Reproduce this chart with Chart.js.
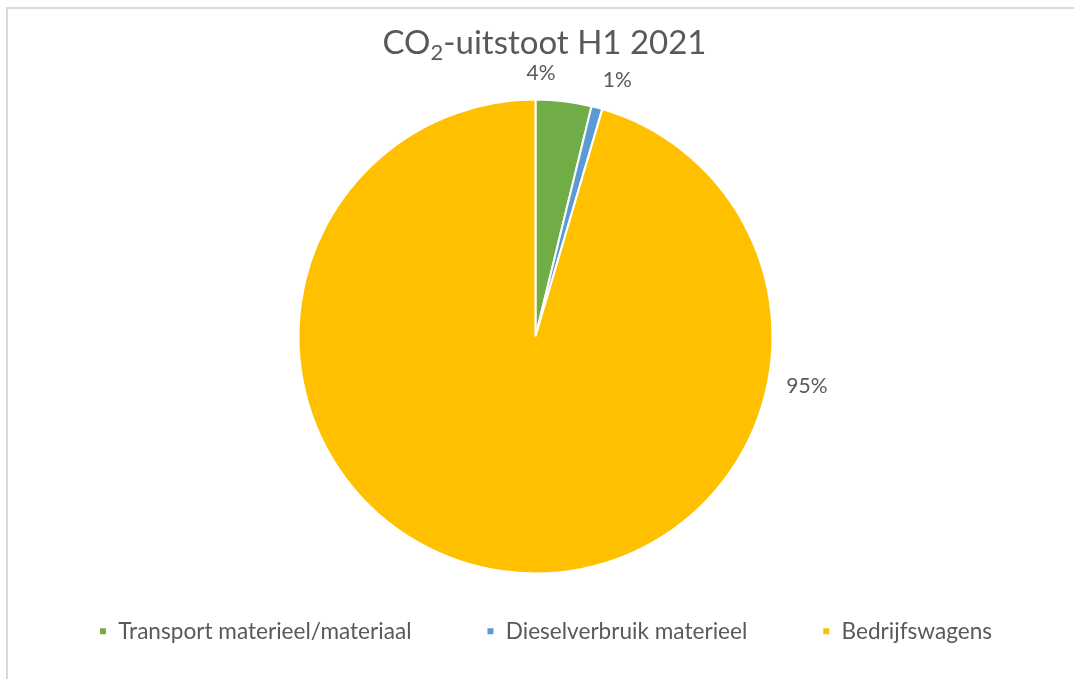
<!DOCTYPE html>
<html>
<head>
<meta charset="utf-8">
<style>
  html, body { margin: 0; padding: 0; background: #fff; }
  #wrap { width: 1074px; height: 679px; position: relative; }
</style>
<script src="https://cdn.jsdelivr.net/npm/chart.js@4"></script>
</head>
<body>
<div id="wrap"><canvas id="myChart" width="1074" height="679"></canvas></div>
<script>
var categories = ["Transport materieel/materiaal", "Dieselverbruik materieel", "Bedrijfswagens"];
var shares = [3.8, 0.75, 95.45];
var sliceColors = ["#70AD47", "#5B9BD5", "#FFC000"];

var textColor = "#595959";
var fontFamily = "Lato";

// where each percentage label sits: angle from top (clockwise, degrees) and distance from centre
var labelAngles = [1.2, 17.7, 100.4];
var labelRadii = [263, 269, 276];

var legendShiftX = 10;
var legendShiftY = -29;

var frame = {
	id: "frame",
	beforeDraw: function(chart) {
		var c = chart.ctx;
		c.save();
		c.fillStyle = "#fff";
		c.fillRect(0, 0, chart.width, chart.height);
		c.strokeStyle = "#d9d9d9";
		c.lineWidth = 2;
		c.beginPath();
		c.moveTo(7, chart.height);
		c.lineTo(7, 8);
		c.lineTo(chart.width, 8);
		c.stroke();
		c.restore();
	}
};

var titleWithSub = {
	id: "titleWithSub",
	afterDraw: function(chart) {
		var c = chart.ctx;
		var big = "33px " + fontFamily;
		var small = "22px " + fontFamily;
		c.save();
		c.fillStyle = textColor;
		c.textBaseline = "alphabetic";
		c.textAlign = "left";
		c.font = big;
		var w1 = c.measureText("CO").width;
		var w3 = c.measureText("-uitstoot H1 2021").width;
		c.font = small;
		var w2 = c.measureText("2").width;
		var x = 544.5 - (w1 + w2 + w3) / 2;
		var base = 54;
		c.font = big;
		c.fillText("CO", x, base);
		c.font = small;
		c.fillText("2", x + w1, base + 6);
		c.font = big;
		c.fillText("-uitstoot H1 2021", x + w1 + w2, base);
		c.restore();
	}
};

var pctLabels = {
	id: "pctLabels",
	afterDatasetsDraw: function(chart) {
		var c = chart.ctx;
		var meta = chart.getDatasetMeta(0);
		var data = chart.data.datasets[0].data;
		var total = data.reduce(function(a, b) { return a + b; }, 0);
		c.save();
		c.fillStyle = textColor;
		c.font = "21px " + fontFamily;
		c.textAlign = "center";
		c.textBaseline = "middle";
		meta.data.forEach(function(arc, i) {
			var a = labelAngles[i] * Math.PI / 180;
			var x = arc.x + labelRadii[i] * Math.sin(a);
			var y = arc.y - labelRadii[i] * Math.cos(a);
			c.fillText(Math.round(data[i] / total * 100) + "%", x, y);
		});
		c.restore();
	}
};

// legend gets wide gaps between items but must not eat vertical room
var moveLegend = {
	id: "moveLegend",
	afterLayout: function(chart) {
		var lg = chart.legend;
		lg.left += legendShiftX;
		lg.right += legendShiftX;
		lg.top += legendShiftY;
		lg.bottom = chart.height;
		lg.height = lg.bottom - lg.top;
	}
};

var ctx = document.getElementById("myChart");

var myPieChart = new Chart(ctx, {
	type: "pie",
	data: {
		labels: categories,
		datasets: [{
			data: shares,
			backgroundColor: sliceColors,
			borderColor: "#fff",
			borderWidth: 2
		}]
	},
	options: {
		responsive: false,
		animation: false,
		radius: 237,
		layout: {
			padding: { top: 99, bottom: 65, left: 0, right: 3 }
		},
		plugins: {
			title: { display: false },
			tooltip: { enabled: false },
			legend: {
				position: "bottom",
				maxHeight: 40,
				labels: {
					boxWidth: 8,
					boxHeight: 8,
					padding: 75,
					color: textColor,
					font: { family: fontFamily, size: 22.6 }
				}
			}
		}
	},
	plugins: [frame, titleWithSub, pctLabels, moveLegend]
});
</script>
</body>
</html>
